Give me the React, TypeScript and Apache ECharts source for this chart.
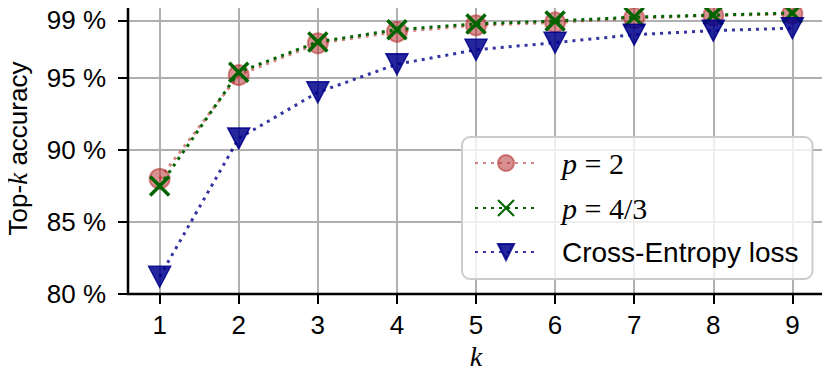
import React, { useEffect, useRef } from "react";
import * as echarts from "echarts";

const ks = [1, 2, 3, 4, 5, 6, 7, 8, 9];
const p2 = [88.0, 95.2, 97.4, 98.2, 98.65, 98.85, 99.15, 99.33, 99.45];
const p43 = [87.5, 95.4, 97.5, 98.35, 98.75, 98.95, 99.22, 99.36, 99.5];
const ce = [81.2, 90.8, 94.0, 95.95, 96.95, 97.45, 98.0, 98.28, 98.45];
const yTicks = [80, 85, 90, 95, 99];
const seriesNames = ["p = 2", "p = 4/3", "Cross-Entropy loss"];

const SANS = "'Liberation Sans', 'DejaVu Sans', sans-serif";
const SERIF = "'Liberation Serif', 'DejaVu Serif', serif";

export default function App() {
  const ref = useRef<HTMLDivElement>(null);
  useEffect(() => {
    if (!ref.current) return;
    const chart = echarts.init(ref.current, null, { renderer: "svg" });
    const pair = (ys: number[]) => ks.map((k, i) => [k, ys[i]]);
    const gridColor = "#b0b0b0";
    chart.setOption({
      animation: false,
      backgroundColor: "#fff",
      grid: {
        left: 128,
        right: 6,
        top: 3,
        bottom: 84,
        containLabel: false,
        outerBoundsMode: "none",
        show: true,
        borderColor: "#000",
        borderWidth: 2.5,
        backgroundColor: "transparent",
        z: 5,
      },
      xAxis: {
        type: "value",
        min: 0.6,
        max: 9.4,
        name: "k",
        nameLocation: "middle",
        nameGap: 46,
        nameTextStyle: { fontFamily: SERIF, fontStyle: "italic", fontSize: 28, color: "#000" },
        axisLine: { show: false },
        axisTick: { show: true, length: 10, lineStyle: { color: "#000", width: 2 }, customValues: ks },
        axisLabel: { customValues: ks, fontFamily: SANS, fontSize: 26, color: "#000", margin: 18 },
        splitLine: { show: false },
      },
      yAxis: {
        type: "value",
        min: 80,
        max: 100.2,
        name: "{a|Top-}{k|k}{a| accuracy}",
        nameLocation: "middle",
        nameGap: 97,
        nameRotate: 90,
        nameTextStyle: {
          rich: {
            a: { fontFamily: SANS, fontSize: 26, color: "#000" },
            k: { fontFamily: SERIF, fontStyle: "italic", fontSize: 27, color: "#000" },
          },
        },
        axisLine: { show: false },
        axisTick: { show: true, length: 10, lineStyle: { color: "#000", width: 2 }, customValues: yTicks },
        axisLabel: {
          customValues: yTicks,
          formatter: (v: number) => `${v} %`,
          fontFamily: SANS,
          fontSize: 26,
          color: "#000",
          margin: 22,
        },
        splitLine: { show: false },
      },
      legend: {
        orient: "vertical",
        left: 462,
        top: 137,
        padding: [11, 14, 13, 12],
        itemWidth: 62,
        itemHeight: 20,
        itemGap: 15,
        backgroundColor: "rgba(255,255,255,0.8)",
        borderColor: "#cccccc",
        borderWidth: 2,
        borderRadius: 8,
        data: seriesNames,
        formatter: (name: string) => {
          if (name === seriesNames[0]) return "{m|p}{r| = 2}";
          if (name === seriesNames[1]) return "{m|p}{r| = 4/3}";
          return "{s|" + name + "}";
        },
        textStyle: {
          padding: [0, 0, 0, 20],
          rich: {
            m: { fontFamily: SERIF, fontStyle: "italic", fontSize: 30, color: "#000" },
            r: { fontFamily: SERIF, fontSize: 30, color: "#000" },
            s: { fontFamily: SANS, fontSize: 28, color: "#000" },
          },
        },
      },
      series: [
        {
          type: "line",
          name: "grid",
          data: [],
          z: 0,
          silent: true,
          markLine: {
            z: 1,
            silent: true,
            symbol: ["none", "none"],
            label: { show: false },
            lineStyle: { color: gridColor, width: 2, type: "solid" },
            data: [
              ...yTicks.map((v) => ({ yAxis: v })),
              ...ks.map((v) => ({ xAxis: v })),
            ],
          },
        },
        {
          type: "line",
          name: seriesNames[0],
          data: pair(p2),
          z: 10,
          symbol: "circle",
          symbolSize: 20,
          itemStyle: { color: "rgba(178,34,34,0.5)", borderColor: "rgba(178,34,34,0.5)", borderWidth: 2 },
          lineStyle: { color: "rgba(178,34,34,0.55)", width: 3, type: [3, 5] },
        },
        {
          type: "line",
          name: seriesNames[1],
          data: pair(p43),
          z: 11,
          symbol: "path://M0,0L10,10M10,0L0,10",
          symbolSize: 19,
          itemStyle: { color: "#006400", borderColor: "#006400", borderWidth: 3.5 },
          lineStyle: { color: "#006400", width: 3, type: [3, 5] },
        },
        {
          type: "line",
          name: seriesNames[2],
          data: pair(ce),
          z: 12,
          symbol: "triangle",
          symbolRotate: 180,
          symbolSize: [22, 21],
          itemStyle: { color: "rgba(0,0,139,0.85)", borderColor: "rgba(0,0,139,0.85)", borderWidth: 1.5 },
          lineStyle: { color: "rgba(0,0,139,0.8)", width: 3, type: [3, 5] },
        },
      ],
    });
    return () => chart.dispose();
  }, []);
  return <div ref={ref} style={{ width: 830, height: 378, margin: -8 }} />;
}
